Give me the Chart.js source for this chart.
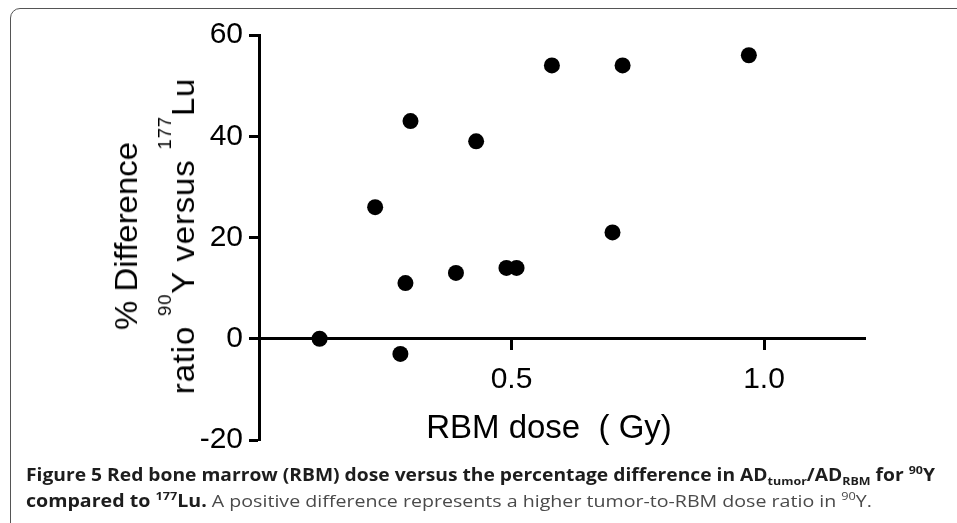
<!DOCTYPE html>
<html>
<head>
<meta charset="utf-8">
<script src="https://cdn.jsdelivr.net/npm/chart.js@4"></script>
<style>
  html, body { margin: 0; padding: 0; background: #fff; }
  #wrap { position: relative; width: 957px; height: 523px; overflow: hidden; }
  #frame {
    position: absolute; left: 10px; top: 8px; width: 1000px; height: 600px;
    border: 1.5px solid #555; border-radius: 10px; box-sizing: border-box;
  }
  #chart { position: absolute; left: 0; top: 0; }
  .axtitle {
    position: absolute; text-align: center; color: #000; white-space: pre;
    font-family: "Liberation Sans", Arial, sans-serif;
  }
  #xtitle { left: 349px; top: 410px; width: 400px; font-size: 33px; line-height: 33px; }
  #ytitle {
    left: -55px; top: 179px; width: 420px; height: 114px; font-size: 32px; line-height: 57px;
    transform: rotate(-90deg) scaleX(1.03);
  }
  #ytitle .l2 { letter-spacing: 0.8px; }
  #ytitle sup { font-size: 18px; line-height: 0; vertical-align: 23px; }
  .cap {
    position: absolute; left: 26px; white-space: nowrap; transform-origin: 0 50%;
    font-family: "Open Sans", sans-serif; font-size: 17px; line-height: 22px; color: #4a4a4a;
  }
  .cap b { color: #1d1d1d; font-weight: 700; }
  .cap sub, .cap sup { font-size: 11px; line-height: 0; }
</style>
</head>
<body>
<div id="wrap">
  <div id="frame"></div>
  <canvas id="chart" width="957" height="523"></canvas>
  <div class="axtitle" id="xtitle">RBM dose  ( Gy)</div>
  <div class="axtitle" id="ytitle">% Difference
<span class="l2">ratio <sup>90</sup>Y versus <sup>177</sup>Lu</span></div>
  <div class="cap" id="cap1" style="top:464px"><b>Figure 5 Red bone marrow (RBM) dose versus the percentage difference in AD<sub>tumor</sub>/AD<sub>RBM</sub> for <sup>90</sup>Y</b></div>
  <div class="cap" id="cap2" style="top:490px"><b>compared to <sup>177</sup>Lu.</b> A positive difference represents a higher tumor-to-RBM dose ratio in <sup>90</sup>Y.</div>
</div>
<script>
// RBM dose (Gy) and % difference
const doseGy = [0.12, 0.23, 0.28, 0.29, 0.30, 0.39, 0.43, 0.49, 0.51, 0.58, 0.70, 0.72, 0.97];
const pctDiff = [0, 26, -3, 11, 43, 13, 39, 14, 14, 54, 21, 54, 56];
const xTicks = [0.5, 1.0];
const yTicks = [-20, 0, 20, 40, 60];

const axisFont = { family: '"Liberation Sans", Arial, sans-serif', size: 30 };

// stretch caption lines to the width they take in the figure
const fitLine = (id, target) => {
  const el = document.getElementById(id);
  const w = el.getBoundingClientRect().width;
  el.style.transform = `scaleX(${target / w})`;
};
fitLine("cap1", 909);
fitLine("cap2", 846);

new Chart(document.getElementById("chart"), {
  type: "scatter",
  data: {
    datasets: [
      {
        data: doseGy.map((x, i) => ({ x, y: pctDiff[i] })),
        backgroundColor: "#000",
        borderWidth: 0,
        pointRadius: 8,
        pointHoverRadius: 8,
      },
    ],
  },
  options: {
    responsive: false,
    animation: false,
    layout: { padding: { left: 0, top: 35, right: 92, bottom: 83 } },
    plugins: { legend: { display: false }, tooltip: { enabled: false } },
    scales: {
      x: {
        type: "linear",
        min: 0,
        max: 1.2,
        position: { y: 0 },
        afterBuildTicks: (scale) => {
          scale.ticks = xTicks.map((value) => ({ value }));
        },
        border: { display: true, color: "#000", width: 3 },
        grid: { drawOnChartArea: false, drawTicks: true, tickLength: 10, tickWidth: 3, tickColor: "#000" },
        ticks: {
          color: "#000",
          font: axisFont,
          padding: 13,
          maxRotation: 0,
          callback: (v) => Number(v).toFixed(1),
        },
      },
      y: {
        type: "linear",
        min: -20,
        max: 60,
        afterBuildTicks: (scale) => {
          scale.ticks = yTicks.map((value) => ({ value }));
        },
        afterFit: (scale) => {
          scale.width = 259;
        },
        border: { display: true, color: "#000", width: 3 },
        grid: { drawOnChartArea: false, drawTicks: true, tickLength: 10, tickWidth: 3, tickColor: "#000" },
        ticks: { color: "#000", font: axisFont, padding: 6 },
      },
    },
  },
});
</script>
</body>
</html>
